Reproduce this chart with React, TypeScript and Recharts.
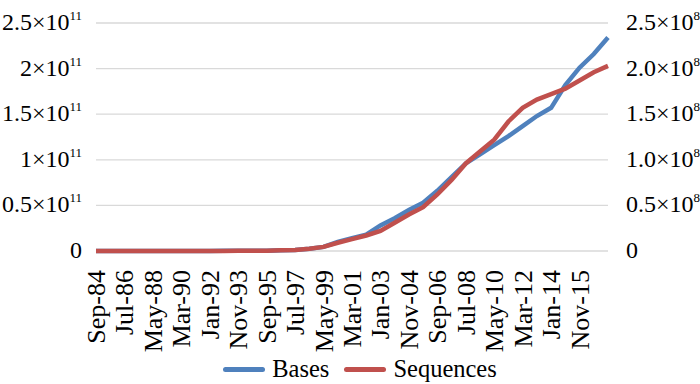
import { CartesianGrid, Legend, Line, LineChart, XAxis, YAxis } from "recharts";

// one point every 11 months, Sep-84 .. Sep-17
const months = [
  "Sep-84", "Aug-85", "Jul-86", "Jun-87", "May-88", "Apr-89", "Mar-90", "Feb-91", "Jan-92", "Dec-92",
  "Nov-93", "Oct-94", "Sep-95", "Aug-96", "Jul-97", "Jun-98", "May-99", "Apr-00", "Mar-01", "Feb-02",
  "Jan-03", "Dec-03", "Nov-04", "Oct-05", "Sep-06", "Aug-07", "Jul-08", "Jun-09", "May-10", "Apr-11",
  "Mar-12", "Feb-13", "Jan-14", "Dec-14", "Nov-15", "Oct-16", "Sep-17",
];

// bases, in units of 1e11
const bases = [
  0.00004, 0.00005, 0.00009, 0.00015, 0.00024, 0.00035, 0.0005, 0.0007, 0.001, 0.0014,
  0.002, 0.003, 0.004, 0.007, 0.012, 0.025, 0.045, 0.1, 0.14, 0.18,
  0.28, 0.36, 0.45, 0.53, 0.66, 0.81, 0.96, 1.06, 1.16, 1.26,
  1.37, 1.48, 1.57, 1.82, 2.01, 2.16, 2.34,
];

// sequences, in units of 1e8
const sequences = [
  0.00004, 0.00006, 0.0001, 0.00015, 0.0002, 0.0003, 0.0004, 0.0006, 0.0008, 0.0011,
  0.0017, 0.0025, 0.004, 0.007, 0.012, 0.025, 0.045, 0.09, 0.13, 0.17,
  0.22, 0.31, 0.4, 0.48, 0.62, 0.78, 0.96, 1.09, 1.22, 1.42,
  1.57, 1.66, 1.72, 1.78, 1.87, 1.96, 2.03,
];

const xTickLabels = [
  "Sep-84", "Jul-86", "May-88", "Mar-90", "Jan-92", "Nov-93", "Sep-95", "Jul-97", "May-99",
  "Mar-01", "Jan-03", "Nov-04", "Sep-06", "Jul-08", "May-10", "Mar-12", "Jan-14", "Nov-15",
];

const yTicks = [0, 0.5, 1, 1.5, 2, 2.5];
const leftTickLabels = ["0", "0.5×10^11", "1×10^11", "1.5×10^11", "2×10^11", "2.5×10^11"];
const rightTickLabels = ["0", "0.5×10^8", "1.0×10^8", "1.5×10^8", "2.0×10^8", "2.5×10^8"];

const data = months.map((month, i) => ({ month, bases: bases[i], sequences: sequences[i] }));

const FONT = '"Liberation Serif", "Times New Roman", serif';
const BLUE = "#4F81BD";
const RED = "#C0504D";

function makeYTick(labels: string[], anchor: "start" | "end") {
  return (props: any) => {
    const { x, y, payload } = props;
    const idx = yTicks.indexOf(payload.value);
    const [mant, exp] = (labels[idx] ?? "").split("^");
    return (
      <text x={x} y={y} dy={7} textAnchor={anchor} fontFamily={FONT} fontSize={24} fill="#000">
        {mant}
        {exp && (
          <tspan dy={-10} fontSize={13}>
            {exp}
          </tspan>
        )}
      </text>
    );
  };
}

const XTick = (props: any) => {
  const { x, y, payload } = props;
  if (!xTickLabels.includes(payload.value)) return <g />;
  const ty = y + 19;
  return (
    <text
      x={x}
      y={ty}
      dy={9}
      textAnchor="end"
      transform={`rotate(-90, ${x}, ${ty})`}
      fontFamily={FONT}
      fontSize={26}
      fill="#000"
    >
      {payload.value}
    </text>
  );
};

const renderLegend = () => (
  <div
    style={{
      display: "flex",
      justifyContent: "center",
      alignItems: "center",
      height: 30,
      paddingLeft: 20,
      fontFamily: FONT,
      fontSize: 24.5,
      color: "#000",
    }}
  >
    <span style={{ display: "inline-block", width: 42, height: 5, borderRadius: 3, background: BLUE, marginRight: 7 }} />
    <span>Bases</span>
    <span
      style={{ display: "inline-block", width: 42, height: 5, borderRadius: 3, background: RED, marginLeft: 15, marginRight: 7 }}
    />
    <span>Sequences</span>
  </div>
);

export default function App() {
  return (
    <div style={{ position: "absolute", left: 0, top: 0, background: "#fff" }}>
      <LineChart width={700} height={384} data={data} margin={{ top: 23, right: 0, bottom: 0, left: 0 }}>
        <CartesianGrid yAxisId="left" vertical={false} stroke="#d9d9d9" strokeWidth={1.3} />
        <XAxis
          dataKey="month"
          interval={0}
          height={103}
          tickLine={false}
          axisLine={false}
          tickSize={0}
          tickMargin={0}
          tick={<XTick />}
        />
        <YAxis
          yAxisId="left"
          width={96}
          domain={[0, 2.5]}
          ticks={yTicks}
          tickLine={false}
          axisLine={false}
          tickSize={0}
          tickMargin={14}
          tick={makeYTick(leftTickLabels, "end")}
        />
        <YAxis
          yAxisId="right"
          orientation="right"
          width={92}
          domain={[0, 2.5]}
          ticks={yTicks}
          tickLine={false}
          axisLine={false}
          tickSize={0}
          tickMargin={18}
          tick={makeYTick(rightTickLabels, "start")}
        />
        <Legend verticalAlign="bottom" height={30} content={renderLegend} />
        <Line
          yAxisId="left"
          dataKey="bases"
          name="Bases"
          stroke={BLUE}
          strokeWidth={4.5}
          dot={false}
          isAnimationActive={false}
        />
        <Line
          yAxisId="right"
          dataKey="sequences"
          name="Sequences"
          stroke={RED}
          strokeWidth={4.5}
          dot={false}
          isAnimationActive={false}
        />
      </LineChart>
    </div>
  );
}
